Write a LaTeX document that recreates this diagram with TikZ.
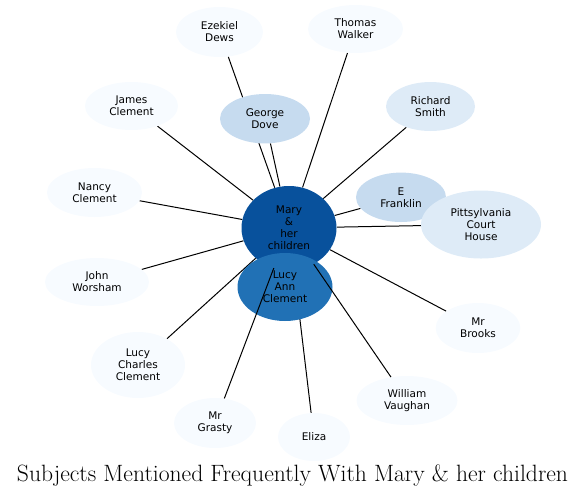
\documentclass[tikz,border=0pt]{standalone}
\usepackage{fontspec}
\newfontfamily\labelfont{DejaVu Sans}
\usetikzlibrary{shapes.geometric}
\pgfdeclarelayer{background}
\pgfsetlayers{background,main}
\definecolor{toneA}{HTML}{F7FBFF}
\definecolor{toneB}{HTML}{DEEBF7}
\definecolor{toneC}{HTML}{C6DBEF}
\definecolor{toneE}{HTML}{2171B5}
\definecolor{toneF}{HTML}{08519C}

\begin{document}
\begin{tikzpicture}[
    x=0.75pt, y=-0.75pt,
    subject/.style={ellipse, inner sep=0pt, align=center, font=\labelfont\fontsize{7.9}{9}\selectfont},
    oval/.style 2 args={minimum width=#1*1.5pt, minimum height=#2*1.5pt},
    faint/.style={subject, fill=toneA},
    pale/.style={subject, fill=toneB},
    light/.style={subject, fill=toneC},
    link/.style={draw=black, line width=0.75pt}
]
    \useasboundingbox (0,0) rectangle (585,497);

    % Centre
    \node[subject, fill=toneF, oval={47.5}{42}] (mary) at (289,228) {Mary\\ \&\\ her\\ children};

    % Subjects round the centre
    \node[faint, oval={43.5}{25}] (ezekiel) at (219.5,32) {Ezekiel\\ Dews};
    \node[faint, oval={47.5}{24}] (thomas) at (355.5,29) {Thomas\\ Walker};
    \node[faint, oval={46.5}{24}] (james) at (131.5,106) {James\\ Clement};
    \node[light, oval={45}{24.7}] (george) at (265,118.7) {George\\ Dove};
    \node[pale, oval={44.5}{24.5}] (richard) at (430.5,106.5) {Richard\\ Smith};
    \node[faint, oval={47.5}{24.5}] (nancy) at (94.5,192.5) {Nancy\\ Clement};
    \node[light, oval={45}{24.7}] (franklin) at (401,197.3) {E\\ Franklin};
    \node[pale, oval={60}{34}] (pittsylvania) at (481,224.5) {Pittsylvania\\ Court\\ House};
    \node[faint, oval={52}{24}] (worsham) at (97,282) {John\\ Worsham};
    \node[faint, oval={42.3}{25}] (brooks) at (478,328) {Mr\\ Brooks};
    \node[faint, oval={47}{33}] (lucycharles) at (138,365) {Lucy\\ Charles\\ Clement};
    \node[faint, oval={50.5}{24.5}] (vaughan) at (407,400.5) {William\\ Vaughan};
    \node[faint, oval={41}{25}] (grasty) at (215,423) {Mr\\ Grasty};
    \node[faint, oval={36}{24}] (eliza) at (314,437) {Eliza};
    \node[subject, fill=toneE, oval={47.5}{34}] (lucyann) at (285,287) {Lucy\\ Ann\\ Clement};

    % Connectors
    \begin{pgfonlayer}{background}
        \foreach \target in {ezekiel, thomas, james, george, richard, nancy, franklin,
                pittsylvania, worsham, brooks, lucycharles, eliza, lucyann}
            \draw[link] (mary) -- (\target);
    \end{pgfonlayer}
    \draw[link] (mary) -- (grasty);
    \draw[link] (mary) -- (vaughan);

    % Title
    \node[anchor=base, font=\fontsize{17.7}{21}\selectfont, inner sep=0pt] (title) at (292.5,481)
        {Subjects Mentioned Frequently With Mary \& her children};
\end{tikzpicture}
\end{document}
